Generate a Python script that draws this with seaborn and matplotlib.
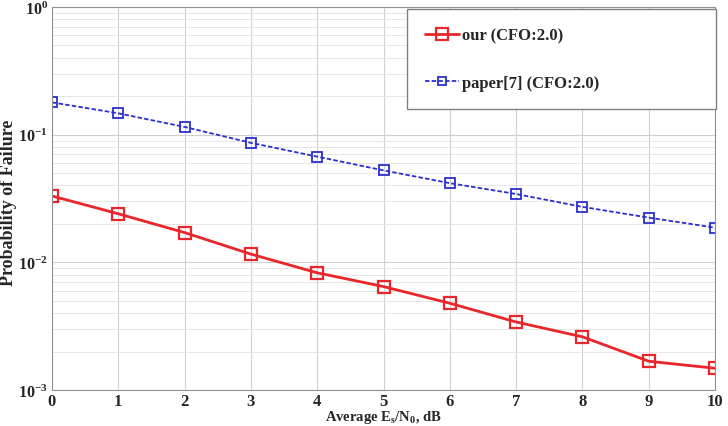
import matplotlib
matplotlib.use("Agg")
import matplotlib.pyplot as plt
import seaborn as sns
import pandas as pd
from matplotlib.lines import Line2D

snr_db = [0, 1, 2, 3, 4, 5, 6, 7, 8, 9, 10]
our_cfo = [0.0331, 0.0240, 0.0171, 0.0116, 0.00828, 0.00646, 0.00478, 0.00341, 0.00261, 0.00168, 0.00148]
paper7_cfo = [0.179, 0.147, 0.115, 0.0863, 0.0673, 0.0525, 0.0417, 0.0343, 0.0272, 0.0224, 0.0187]
series_names = ["our (CFO:2.0)", "paper[7] (CFO:2.0)"]
x_ticks = [0, 1, 2, 3, 4, 5, 6, 7, 8, 9, 10]

sns.set_theme(style="white")
plt.rcParams['font.family'] = ['Liberation Serif', 'DejaVu Serif']
plt.rcParams['font.weight'] = 'bold'
plt.rcParams['mathtext.fontset'] = 'custom'
plt.rcParams['mathtext.rm'] = 'Liberation Serif:bold'
plt.rcParams['mathtext.it'] = 'Liberation Serif:bold'
plt.rcParams['mathtext.bf'] = 'Liberation Serif:bold'

RED = "#e8262b"
BLUE = "#2a2fd0"

df = pd.DataFrame({
    "snr": snr_db * 2,
    "pf": our_cfo + paper7_cfo,
    "series": [series_names[0]] * len(snr_db) + [series_names[1]] * len(snr_db),
})

L, R, T, B = 52, 715, 8, 391
fig = plt.figure(figsize=(7.28, 4.27), dpi=100)
ax = fig.add_axes([L/728, 1 - B/427, (R-L)/728, (B-T)/427])

sns.lineplot(data=df, x="snr", y="pf", hue="series", style="series",
             palette={series_names[0]: RED, series_names[1]: BLUE},
             dashes={series_names[0]: "", series_names[1]: (2.5, 1.2)},
             markers={series_names[0]: "s", series_names[1]: "s"},
             ax=ax, legend=False)
lines = ax.get_lines()
lines[0].set_linewidth(2.0)
lines[0].set_markersize(9)
lines[0].set_markerfacecolor("none")
lines[0].set_markeredgewidth(1.6)
lines[0].set_markeredgecolor(RED)
lines[1].set_linewidth(1.3)
lines[1].set_markersize(6.5)
lines[1].set_markerfacecolor("none")
lines[1].set_markeredgewidth(1.3)
lines[1].set_markeredgecolor(BLUE)

ax.set_yscale("log")
ax.set_xlim(0, 10)
ax.set_ylim(1e-3, 1e0)
ax.set_xticks(x_ticks)
ax.set_xticklabels([str(t) for t in x_ticks], fontsize=12, fontweight="bold")
ax.set_yticks([1e-3, 1e-2, 1e-1, 1e0])
ax.set_yticklabels([r"$10^{-3}$", r"$10^{-2}$", r"$10^{-1}$", r"$10^{0}$"], fontsize=11.5)
ax.grid(True, which="major", color="#d0d0d0", linewidth=0.8)
ax.grid(True, which="minor", color="#e2e2e2", linewidth=0.6)
ax.tick_params(which="both", direction="in", length=3, color="#888888")
ax.tick_params(axis="x", pad=2)
ax.tick_params(axis="y", pad=3)
for s in ax.spines.values():
    s.set_color("#909090")
    s.set_linewidth(0.8)

ax.set_xlabel(r"Average E$_s$/N$_0$, dB", fontsize=10.5, fontweight="bold")
ax.xaxis.set_label_coords(0.5, -(409 - B) / (B - T))
ax.xaxis.label.set_va("top")
ax.set_ylabel("Probability of Failure", fontsize=13, fontweight="bold")
ax.yaxis.set_label_coords((9 - L) / (R - L), (B - 203) / (B - T))
ax.yaxis.label.set_va("center")

handles = [
    Line2D([], [], color=RED, lw=2.0, marker="s", ms=9, mfc="none", mew=1.6),
    Line2D([], [], color=BLUE, lw=1.3, ls=(0, (2.5, 1.2)), marker="s", ms=6, mfc="none", mew=1.3),
]
x0 = (407 - L) / (R - L)
y_top = (B - 10) / (B - T)
y_bot = (B - 117) / (B - T)
leg = ax.legend(handles, series_names, loc="upper left",
                bbox_to_anchor=(x0, y_bot, 1.0 - x0 + 0.002, y_top - y_bot),
                mode="expand", fontsize=12, frameon=True, fancybox=False,
                edgecolor="#808080", framealpha=1.0,
                borderpad=1.1, labelspacing=1.9, handlelength=2.0, handletextpad=0.2,
                borderaxespad=0.0)
leg.get_frame().set_linewidth(1.0)
for t in leg.get_texts():
    t.set_fontweight("bold")

fig.savefig("out.png", dpi=100)
